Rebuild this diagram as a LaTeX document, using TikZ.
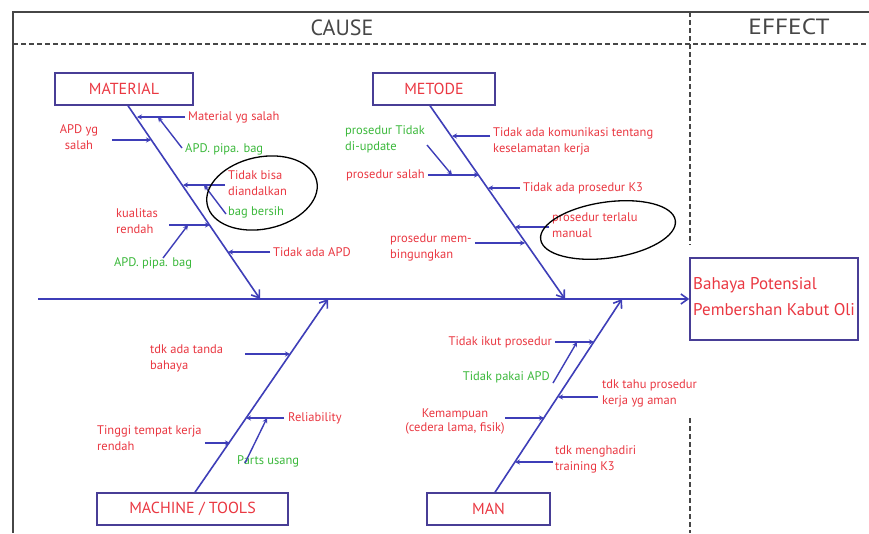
\documentclass[tikz,border=0pt]{standalone}
\usepackage{fontspec}
\setmainfont{PT Sans}
\usetikzlibrary{arrows.meta,calc}
\definecolor{bluel}{RGB}{62,62,184}
\definecolor{boxc}{RGB}{72,62,150}
\definecolor{redt}{RGB}{234,56,66}
\definecolor{greent}{RGB}{60,185,60}
\definecolor{framec}{RGB}{70,70,70}
\tikzset{
  bone/.style={draw=bluel, line width=1.6pt, -{Straight Barb[length=7pt,width=10pt]}},
  sub/.style={draw=bluel, line width=1.4pt, -{Stealth[length=5pt,width=5pt]}},
  cat/.style={draw=boxc, line width=1.5pt, minimum height=32pt, inner sep=0pt, text=redt, font=\fontsize{16}{18}\selectfont},
  rt/.style={text=redt, font=\fontsize{12.5}{16}\selectfont, align=left, inner sep=0pt},
  gt/.style={text=greent, font=\fontsize{12.5}{16}\selectfont, align=left, inner sep=0pt},
  hdr/.style={text=framec, font=\fontsize{22}{24}\selectfont, inner sep=0pt},
  dashln/.style={draw=framec, line width=1.3pt, dash pattern=on 5pt off 3pt},
  framel/.style={draw=framec, line width=2.4pt},
  ring/.style={draw=black, line width=1.3pt}
}
\begin{document}
\begin{tikzpicture}[x=1pt,y=-1pt]
\useasboundingbox[fill=white] (0,0) rectangle (869,533);
% frame
\draw[framel] (869,12) -- (13,12) -- (13,533);
\draw[dashln] (13,44) -- (869,44);
\draw[dashln] (690,12) -- (690,245);
\draw[dashln] (690,418) -- (690,533);
\node[hdr] (cause) at (342,28) {CAUSE};
\node[hdr, xscale=1.15] (effect) at (789,27) {EFFECT};

% category boxes
\node[cat, minimum width=138pt] (mat) at (124,89) {MATERIAL};
\node[cat, minimum width=122pt] (met) at (434,89) {METODE};
\node[cat, minimum width=191pt] (mac) at (192.5,509) {MACHINE / TOOLS};
\node[cat, minimum width=123pt] (man) at (488.5,509) {MAN};
\node[draw=boxc, line width=1.5pt, minimum width=168pt, minimum height=82pt, inner sep=0pt] (eff) at (774,299) {};
\node[text=redt, font=\fontsize{17}{26}\selectfont, align=left, inner sep=0pt, anchor=west] (efft) at (693,297) {Bahaya Potensial\\Pembershan Kabut Oli};

% spine and bones
\coordinate (sp) at (38,299);
\draw[bone] (sp) -- (eff.west);
\coordinate (mtip) at (260,299);
\coordinate (ttip) at (565,299);
\coordinate (ctip) at (328,299);
\coordinate (ntip) at (622,299);
\draw[bone] ([xshift=4pt]mat.south) -- (mtip);
\draw[bone] ([xshift=-4pt]met.south) -- (ttip);
\draw[bone] ([xshift=2.5pt]mac.north) -- (ctip);
\draw[bone] ([xshift=6.5pt]man.north) -- (ntip);

% ---- MATERIAL ----
\node[rt, anchor=west] (m1) at (188,117) {Material yg salah};
\coordinate (m1b) at (137,117);
\coordinate (m1s) at (158,117);
\draw[sub] ([xshift=-3pt]m1.west) -- (m1b);
\node[gt, anchor=west] (m1g) at (185,149) {APD. pipa. bag};
\draw[sub] ([xshift=-3pt,yshift=1pt]m1g.west) -- (m1s);

\node[rt, align=center] (m2) at (79,137) {APD yg\\salah};
\coordinate (m2b) at (151,140);
\draw[sub] (112,140) coordinate (m2s) -- (m2b);

\node[rt, anchor=north west] (m3) at (228,170) {Tidak bisa\\diandalkan};
\coordinate (m3b) at (183,185);
\coordinate (m3s) at (204,185);
\draw[sub] (225,185) coordinate (m3o) -- (m3b);
\node[gt, anchor=west] (m3g) at (228,212) {bag bersih};
\draw[sub] ([xshift=-2pt,yshift=-2pt]m3g.west) -- (m3s);
\draw[ring, rotate around={12:(262,193)}] (262,193) ellipse [x radius=56, y radius=36];

\node[rt, anchor=north west] (m4) at (116,208) {kualitas\\rendah};
\coordinate (m4b) at (210,225);
\coordinate (m4s) at (188,225);
\draw[sub] (169,225) coordinate (m4o) -- (m4b);
\node[gt] (m4g) at (153,263) {APD. pipa. bag};
\draw[sub] ([xshift=10pt,yshift=-1pt]m4g.north) -- (m4s);

\node[rt, anchor=west] (m5) at (273,252) {Tidak ada APD};
\coordinate (m5b) at (228,252);
\draw[sub] ([xshift=-3pt]m5.west) -- (m5b);

% ---- METODE ----
\node[rt, anchor=north west] (t1) at (493,127) {Tidak ada komunikasi tentang\\keselamatan kerja};
\coordinate (t1b) at (452,136);
\draw[sub] (490,136) coordinate (t1o) -- (t1b);

\node[gt, anchor=north west] (t2g) at (345,125) {prosedur Tidak\\di-update};
\node[rt, anchor=west] (t2) at (346,175) {prosedur salah};
\coordinate (t2b) at (479,175);
\coordinate (t2s) at (452,175);
\draw[sub] ([xshift=3pt]t2.east) -- (t2b);
\draw[sub] (427,145) coordinate (t2go) -- (t2s);

\node[rt, anchor=west] (t3) at (523,188) {Tidak ada prosedur K3};
\coordinate (t3b) at (488,188);
\draw[sub] ([xshift=-3pt]t3.west) -- (t3b);

\node[rt, anchor=north west] (t4) at (552,213) {prosedur terlalu\\manual};
\coordinate (t4b) at (515,227);
\draw[sub] (549,227) coordinate (t4o) -- (t4b);
\draw[ring, rotate around={8:(608,230)}] (608,230) ellipse [x radius=68, y radius=28];

\node[rt, anchor=north west] (t5) at (390,234) {prosedur mem-\\bingungkan};
\coordinate (t5b) at (525,243);
\draw[sub] ($(t5.north east |- t5b)+(3,0)$) -- (t5b);

% ---- MACHINE / TOOLS ----
\node[rt, anchor=north west] (c1) at (150,345) {tdk ada tanda\\bahaya};
\coordinate (c1b) at (290,354);
\draw[sub] (245,354) coordinate (c1o) -- (c1b);

\node[rt, anchor=west] (c2) at (288,418) {Reliability};
\coordinate (c2b) at (246,418);
\coordinate (c2s) at (267,418);
\draw[sub] ([xshift=-4pt]c2.west) -- (c2b);
\node[gt, anchor=west] (c2g) at (237,461) {Parts usang};
\draw[sub] ([xshift=8pt,yshift=-8pt]c2g.north west) -- (c2s);

\node[rt, anchor=north west] (c3) at (97,425) {Tinggi tempat kerja\\rendah};
\coordinate (c3b) at (230,443);
\draw[sub] ($(c3.north east |- c3b)+(3,0)$) -- (c3b);

% ---- MAN ----
\node[rt, anchor=east] (n1) at (552,342) {Tidak ikut prosedur};
\coordinate (n1b) at (594,342);
\coordinate (n1s) at (577,342);
\draw[sub] ([xshift=3pt]n1.east) -- (n1b);
\node[gt, anchor=east] (n1g) at (550,377) {Tidak pakai APD};
\draw[sub] ([xshift=3pt,yshift=-6pt]n1g.east) -- (n1s);

\node[rt, anchor=north west] (n2) at (602,380) {tdk tahu prosedur\\kerja yg aman};
\coordinate (n2b) at (558,397);
\draw[sub] (598,397) coordinate (n2o) -- (n2b);

\node[rt, align=center, font=\fontsize{12.5}{14}\selectfont] (n3) at (455,421) {Kemampuan\\(cedera lama, fisik)};
\coordinate (n3b) at (544,418);
\draw[sub] (505,418) coordinate (n3o) -- (n3b);

\node[rt, anchor=north west] (n4) at (555,445) {tdk menghadiri\\training K3};
\coordinate (n4b) at (515,462);
\draw[sub] (553,462) coordinate (n4o) -- (n4b);
\end{tikzpicture}
\end{document}
